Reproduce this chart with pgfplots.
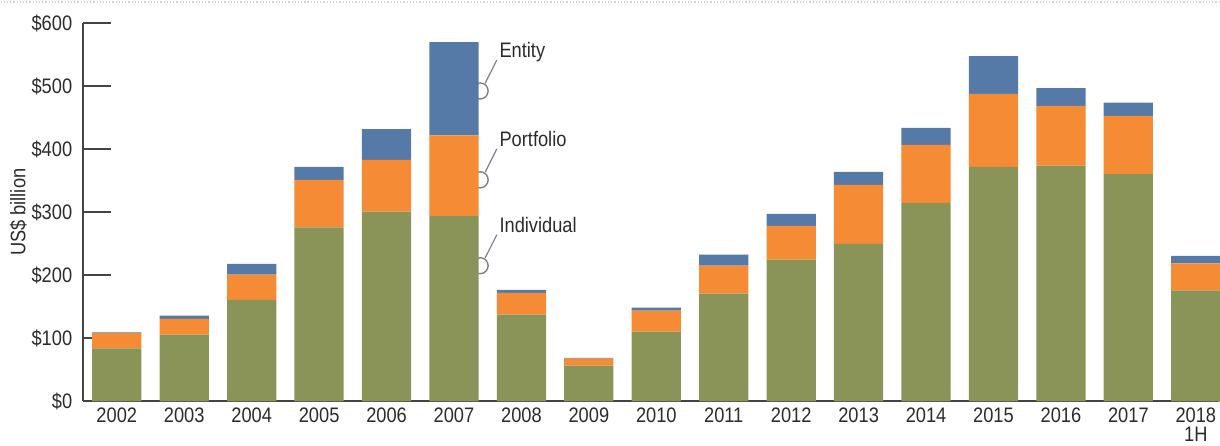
\documentclass[border=0pt]{standalone}
\usepackage{fontspec}
\setmainfont{Liberation Sans}[FakeStretch=0.87]
\usepackage{pgfplots}
\pgfplotsset{compat=1.18}
\definecolor{indiv}{HTML}{8A9459}
\definecolor{portf}{HTML}{F58B34}
\definecolor{entity}{HTML}{567AA8}
\definecolor{txt}{HTML}{2B2B2B}
\definecolor{axln}{HTML}{444444}

\pgfplotsset{every axis/.append style={font=\fontsize{10.5}{12}\selectfont}}
\tikzset{callout/.style={gray, line width=0.7pt}}

\begin{document}
\begin{tikzpicture}
\begin{axis}[
    scale only axis,
    width=568.65pt, height=189.2pt,
    ybar stacked, bar width=24.65pt,
    xmin=-0.498, xmax=16.35, ymin=0, ymax=600,
    enlargelimits=false,
    axis x line=bottom, axis y line=left,
    axis line style={axln, line width=1pt, -},
    xtick={0,...,16},
    xticklabels={2002,2003,2004,2005,2006,2007,2008,2009,2010,2011,2012,2013,2014,2015,2016,2017,{2018\\[-2.5pt]1H}},
    xticklabel style={align=center, text=txt},
    x tick style={draw=none},
    extra x ticks={0.5,1.5,...,15.5},
    extra x tick labels={},
    extra x tick style={tick align=inside, major tick length=4pt,
        tick style={draw=axln, line width=0.7pt}},
    ytick={0,100,...,600},
    yticklabels={\$0,\$100,\$200,\$300,\$400,\$500,\$600},
    yticklabel style={text=txt, xshift=-2pt},
    y tick style={draw=axln, line width=0.8pt},
    tick align=inside, major tick length=14pt,
    ylabel={US\$ billion},
    ylabel style={text=txt, at={(rel axis cs:0,0.5)}, anchor=center, yshift=32.5pt},
    clip=false,
]
% year index, individual, portfolio, entity (US$ bn)
\addplot[fill=indiv, draw=none] coordinates {
  (0,84) (1,106) (2,161) (3,276) (4,301) (5,294) (6,137.5) (7,56.6) (8,110.5)
  (9,171) (10,224.7) (11,250) (12,315) (13,372) (14,374) (15,361) (16,176)};
\addplot[fill=portf, draw=none] coordinates {
  (0,24.5) (1,25) (2,40) (3,75.5) (4,82) (5,128) (6,34.5) (7,11) (8,33.3)
  (9,44.2) (10,53.9) (11,93.6) (12,92) (13,116) (14,95) (15,92) (16,43)};
\addplot[fill=entity, draw=none] coordinates {
  (0,1) (1,5) (2,17) (3,20.5) (4,49) (5,148) (6,5) (7,1.5) (8,4.8)
  (9,17.4) (10,19) (11,20.4) (12,27) (13,60) (14,28) (15,21) (16,12)};

% callouts
\draw[callout] (axis cs:5.388,492.6) circle[radius=4pt];
\draw[callout, line width=0.6pt] (axis cs:5.388,492.6) ++(2.5pt,3.85pt) -- ++(5.85pt,11.65pt);
\node[anchor=base west, inner sep=0, text=txt] at ([shift={(9.5pt,16.85pt)}]axis cs:5.388,492.6) {Entity};
\draw[callout] (axis cs:5.388,351.5) circle[radius=4pt];
\draw[callout, line width=0.6pt] (axis cs:5.388,351.5) ++(2.5pt,3.85pt) -- ++(5.85pt,11.65pt);
\node[anchor=base west, inner sep=0, text=txt] at ([shift={(9.5pt,16.85pt)}]axis cs:5.388,351.5) {Portfolio};
\draw[callout] (axis cs:5.388,215.2) circle[radius=4pt];
\draw[callout, line width=0.6pt] (axis cs:5.388,215.2) ++(2.5pt,3.85pt) -- ++(5.85pt,11.65pt);
\node[anchor=base west, inner sep=0, text=txt] at ([shift={(9.5pt,16.85pt)}]axis cs:5.388,215.2) {Individual};

\coordinate (ll) at (rel axis cs:0,0);
\coordinate (ur) at (rel axis cs:1,1);
\end{axis}
\pgfresetboundingbox
\path (ll) ++(-41.35pt,-22.15pt) coordinate (a);
\path (ur) ++(0pt,11.65pt) coordinate (b);
\draw[gray!35, densely dotted, line width=0.6pt] ([yshift=-1pt]a |- b) -- ([yshift=-1pt]b);
\useasboundingbox (a) rectangle (b);
\end{tikzpicture}
\end{document}
